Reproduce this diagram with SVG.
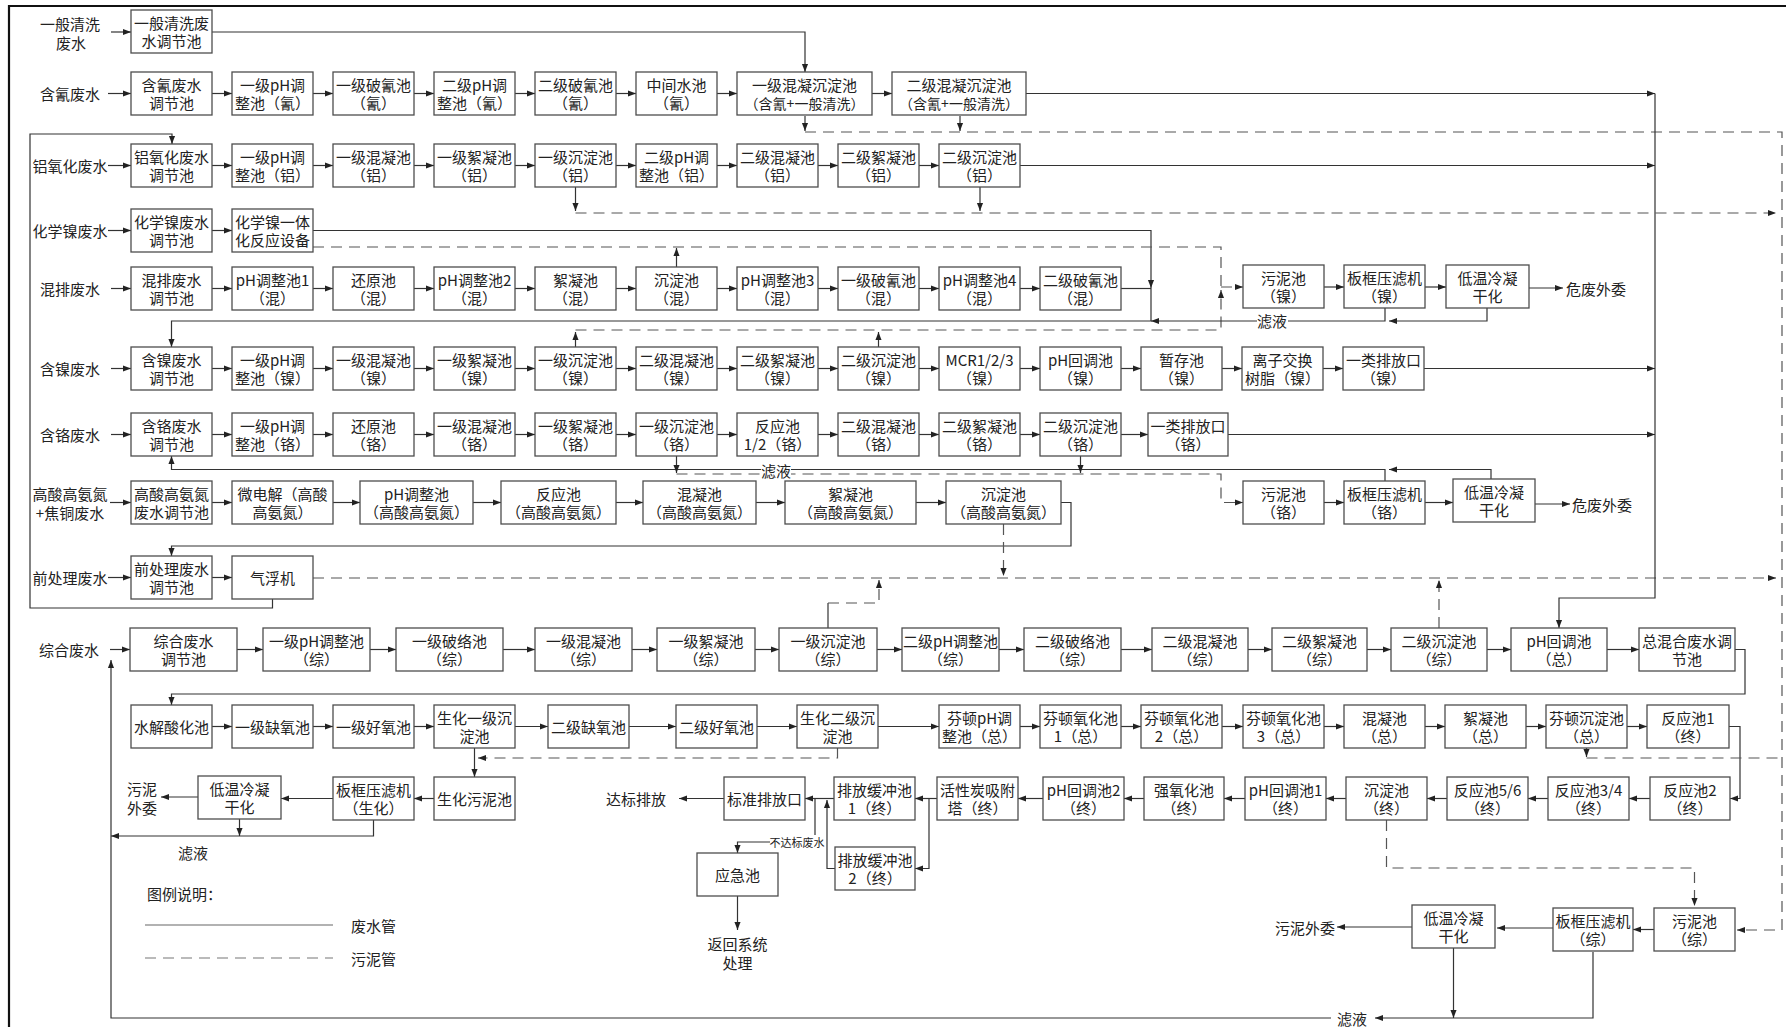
<svg xmlns="http://www.w3.org/2000/svg" width="1786" height="1027" viewBox="0 0 1786 1027">
<defs>
<marker id="a" viewBox="0 0 10 10" refX="10" refY="5" markerWidth="8" markerHeight="8" markerUnits="userSpaceOnUse" orient="auto"><path d="M0,1.2 L10,5 L0,8.8z" fill="#222"/></marker>
<style>
.b{fill:#fff;stroke:#4d4d4d;stroke-width:1.3}
.t{font-family:"Noto Sans CJK SC","Noto Sans",sans-serif;font-size:15px;fill:#222;text-anchor:middle;dominant-baseline:central}
.s{font-size:14px}
.l{font-family:"Noto Sans CJK SC","Noto Sans",sans-serif;font-size:15px;fill:#222;dominant-baseline:central}
.w{fill:none;stroke:#333;stroke-width:1.2}
.wa{fill:none;stroke:#333;stroke-width:1.2;marker-end:url(#a)}
.d{fill:none;stroke:#555;stroke-width:1.2;stroke-dasharray:11 7}
.da{fill:none;stroke:#555;stroke-width:1.2;stroke-dasharray:11 7;marker-end:url(#a)}
.bg{fill:#fff}
</style>
</defs>
<rect width="1786" height="1027" fill="#fff"/>
<path d="M9,1027V6H1786" fill="none" stroke="#111" stroke-width="2.2"/>

<g id="connectors">
<!-- row 0 -->
<path class="wa" d="M111,32H131"/>
<path class="wa" d="M212,32H805V72"/>
<!-- row 1 -->
<path class="wa" d="M108,93.5H131"/>
<path class="wa" d="M212,93.5H232"/><path class="wa" d="M313,93.5H333"/><path class="wa" d="M414,93.5H434"/><path class="wa" d="M515,93.5H535"/><path class="wa" d="M616,93.5H636"/><path class="wa" d="M717,93.5H737"/><path class="wa" d="M872,93.5H892"/>
<path class="wa" d="M1026,93.5H1655"/>
<path class="wa" d="M805,116V131"/><path class="wa" d="M960,116V131"/>
<path class="da" d="M805,132H1782V930H1737"/>
<!-- row 2 -->
<path class="wa" d="M108,165.5H131"/>
<path class="wa" d="M212,165.5H232"/><path class="wa" d="M313,165.5H333"/><path class="wa" d="M414,165.5H434"/><path class="wa" d="M515,165.5H535"/><path class="wa" d="M616,165.5H636"/><path class="wa" d="M717,165.5H737"/><path class="wa" d="M818,165.5H838"/><path class="wa" d="M919,165.5H939"/>
<path class="wa" d="M1020,165.5H1655"/>
<path class="wa" d="M575.5,187V211"/><path class="wa" d="M980,187V211"/>
<path class="da" d="M575.5,213H1776"/>
<!-- return from 气浮机 -->
<path class="wa" d="M272.5,599V608H30V134H172V144"/>
<!-- row 3 -->
<path class="wa" d="M108,230.5H131"/>
<path class="wa" d="M212,230.5H232"/>
<path class="wa" d="M313,230.5H1151V288"/>
<path class="d" d="M313,247H1221V288"/>
<!-- row 4 -->
<path class="wa" d="M111,288.5H131"/>
<path class="wa" d="M212,288.5H232"/><path class="wa" d="M313,288.5H333"/><path class="wa" d="M414,288.5H434"/><path class="wa" d="M515,288.5H535"/><path class="wa" d="M616,288.5H636"/><path class="wa" d="M717,288.5H737"/><path class="wa" d="M818,288.5H838"/><path class="wa" d="M919,288.5H939"/><path class="wa" d="M1020,288.5H1040"/>
<path class="w" d="M1121,288.5H1151"/>
<path class="wa" d="M1151,288V321H171.5V347"/>
<path class="wa" d="M676.5,267V248"/>
<!-- Ni sludge -->
<path class="da" d="M575.5,330H1221V290"/>
<path class="wa" d="M575.5,347V332"/><path class="wa" d="M878.5,347V332"/>
<path class="da" d="M1221,287H1243"/>
<path class="wa" d="M1324,287H1344"/><path class="wa" d="M1425,287H1446"/><path class="wa" d="M1529,288H1563"/>
<path class="wa" d="M1385,308V321H1151"/>
<path class="wa" d="M1487,308V321H1389"/>
<!-- row 5 -->
<path class="wa" d="M111,368.5H131"/>
<path class="wa" d="M212,368.5H232"/><path class="wa" d="M313,368.5H333"/><path class="wa" d="M414,368.5H434"/><path class="wa" d="M515,368.5H535"/><path class="wa" d="M616,368.5H636"/><path class="wa" d="M717,368.5H737"/><path class="wa" d="M818,368.5H838"/><path class="wa" d="M919,368.5H939"/><path class="wa" d="M1020,368.5H1040"/><path class="wa" d="M1121,368.5H1141"/><path class="wa" d="M1222,368.5H1242"/><path class="wa" d="M1323,368.5H1343"/>
<path class="wa" d="M1424,368.5H1655"/>
<!-- row 6 -->
<path class="wa" d="M111,434.5H131"/>
<path class="wa" d="M212,434.5H232"/><path class="wa" d="M313,434.5H333"/><path class="wa" d="M414,434.5H434"/><path class="wa" d="M515,434.5H535"/><path class="wa" d="M616,434.5H636"/><path class="wa" d="M717,434.5H737"/><path class="wa" d="M818,434.5H838"/><path class="wa" d="M919,434.5H939"/><path class="wa" d="M1020,434.5H1040"/><path class="wa" d="M1121,434.5H1148"/>
<path class="wa" d="M1228,434.5H1655"/>
<!-- Cr filtrate & sludge -->
<path class="wa" d="M1385,481V469.5H171.5V456"/>
<path class="wa" d="M1491,479V469.5H1389"/>
<path class="wa" d="M676.5,456V473"/><path class="wa" d="M1080.5,456V473"/>
<path class="da" d="M676.5,474H1221V502.5H1243"/>
<path class="wa" d="M1324,502.5H1344"/><path class="wa" d="M1425,502.5H1453"/><path class="wa" d="M1535,504H1570"/>
<!-- row 7 -->
<path class="wa" d="M110,502.5H131"/>
<path class="wa" d="M212,502.5H232"/><path class="wa" d="M333,502.5H360"/><path class="wa" d="M473,502.5H501"/><path class="wa" d="M616,502.5H643"/><path class="wa" d="M756,502.5H785"/><path class="wa" d="M916,502.5H946"/>
<path class="wa" d="M1061,502.5H1071V546H171.5V556"/>
<path class="da" d="M1003.5,524V576"/>
<!-- row 8 -->
<path class="wa" d="M108,577.5H131"/>
<path class="wa" d="M212,577.5H232"/>
<path class="da" d="M313,578H1776"/>
<!-- collector -->
<path class="wa" d="M1655,93.5V598H1559V628"/>
<!-- row 9 -->
<path class="wa" d="M110,649.5H130"/>
<path class="wa" d="M237,649.5H263"/><path class="wa" d="M370,649.5H396"/><path class="wa" d="M503,649.5H535"/><path class="wa" d="M632,649.5H657"/><path class="wa" d="M755,649.5H779"/><path class="wa" d="M877,649.5H902"/><path class="wa" d="M999,649.5H1024"/><path class="wa" d="M1121,649.5H1152"/><path class="wa" d="M1248,649.5H1272"/><path class="wa" d="M1367,649.5H1391"/><path class="wa" d="M1487,649.5H1511"/><path class="wa" d="M1607,649.5H1639"/>
<path class="wa" d="M1735,649.5H1745V694H171.5V705"/>
<path class="w" d="M828,628V603"/>
<path class="da" d="M828,603H879V580"/>
<path class="da" d="M1439,628V580"/>
<!-- row 10 -->
<path class="wa" d="M212,726.5H232"/><path class="wa" d="M313,726.5H333"/><path class="wa" d="M414,726.5H434"/><path class="wa" d="M515,726.5H548"/><path class="wa" d="M629,726.5H676"/><path class="wa" d="M757,726.5H797"/><path class="wa" d="M878,726.5H939"/><path class="wa" d="M1020,726.5H1040"/><path class="wa" d="M1121,726.5H1141"/><path class="wa" d="M1222,726.5H1243"/><path class="wa" d="M1324,726.5H1344"/><path class="wa" d="M1425,726.5H1445"/><path class="wa" d="M1526,726.5H1546"/><path class="wa" d="M1627,726.5H1647"/>
<path class="wa" d="M1729,726.5H1740V798.5H1730"/>
<path class="wa" d="M1586.5,748V757"/>
<path class="d" d="M1586.5,758H1782"/>
<!-- bio sludge -->
<path class="da" d="M837.5,748V758H478"/>
<path class="wa" d="M474.5,748V777"/>
<path class="wa" d="M434,798.5H414"/><path class="wa" d="M333,798.5H281"/><path class="wa" d="M198,797H161"/>
<path class="wa" d="M373.5,820V836H111"/>
<path class="wa" d="M239.5,819V836"/>
<!-- row 11 right -->
<path class="wa" d="M1650,798.5H1629"/><path class="wa" d="M1548,798.5H1528"/><path class="wa" d="M1447,798.5H1427"/><path class="wa" d="M1346,798.5H1326"/><path class="wa" d="M1245,798.5H1224"/><path class="wa" d="M1144,798.5H1124"/><path class="wa" d="M1043,798.5H1018"/><path class="wa" d="M937,798.5H915"/><path class="wa" d="M834,798.5H805"/><path class="wa" d="M724,798.5H679"/>
<path class="wa" d="M929,798.5V868.5H915"/>
<path class="wa" d="M835,868.5H827V800"/>
<path class="wa" d="M815,798.5V842H737.5V853"/>
<path class="wa" d="M737.5,896V930"/>
<path class="da" d="M1386.5,820V868H1694.5V906"/>
<!-- sludge zong -->
<path class="wa" d="M1654,929.5H1633"/><path class="wa" d="M1553,928H1497"/><path class="wa" d="M1412,927H1337"/>
<path class="wa" d="M1593,952V1018H1375"/>
<path class="wa" d="M1453.5,948V1018"/>
<path class="wa" d="M1331,1018H111V660"/>
</g>

<g id="labels">
<text class="t" x="70" y="23">一般清洗</text><text class="t" x="71" y="42">废水</text>
<text class="t" x="70" y="93.5">含氰废水</text>
<text class="t" x="70" y="165.5">铝氧化废水</text>
<text class="t" x="70" y="230.5">化学镍废水</text>
<text class="t" x="70" y="288.5">混排废水</text>
<text class="t" x="70" y="368.5">含镍废水</text>
<text class="t" x="70" y="434.5">含铬废水</text>
<text class="t" x="70" y="493">高酸高氨氮</text><text class="t" x="70" y="512">+焦铜废水</text>
<text class="t" x="70" y="577.5">前处理废水</text>
<text class="t" x="69" y="649.5">综合废水</text>
<text class="l" x="1566" y="288">危废外委</text>
<rect class="bg" x="1257" y="312" width="31" height="17"/><text class="t" x="1272" y="320">滤液</text>
<text class="l" x="1572" y="504">危废外委</text>
<rect class="bg" x="761" y="462" width="30" height="17"/><text class="t" x="776" y="470">滤液</text>
<text class="t" x="142" y="788">污泥</text><text class="t" x="142" y="807">外委</text>
<text class="t" x="193" y="852">滤液</text>
<text class="l" x="666" y="798.5" text-anchor="end">达标排放</text>
<rect class="bg" x="770" y="835" width="55" height="13"/><text class="t" x="797" y="842" style="font-size:11px">不达标废水</text>
<text class="t" x="737.5" y="943">返回系统</text><text class="t" x="737.5" y="962">处理</text>
<text class="l" x="1335" y="927" text-anchor="end">污泥外委</text>
<text class="t" x="1352" y="1018">滤液</text>
</g>

<g id="legend">
<text class="l" x="147" y="893">图例说明：</text>
<path d="M145,925H333" fill="none" stroke="#666" stroke-width="1.2"/>
<text class="l" x="351" y="925">废水管</text>
<path d="M145,958H333" fill="none" stroke="#777" stroke-width="1.2" stroke-dasharray="11 7"/>
<text class="l" x="351" y="958">污泥管</text>
</g>

<!-- row 0 -->
<g id="n-ybqx-tj"><rect class="b" x="131" y="10" width="81" height="43"/><text class="t" x="171.5" y="22.5">一般清洗废</text><text class="t" x="171.5" y="40.5">水调节池</text></g>
<!-- row 1 -->
<g id="n-hq-tj"><rect class="b" x="131" y="72" width="81" height="43"/><text class="t" x="171.5" y="84.5">含氰废水</text><text class="t" x="171.5" y="102.5">调节池</text></g>
<g id="n-hq-ph1"><rect class="b" x="232" y="72" width="81" height="43"/><text class="t" x="272.5" y="84.5">一级pH调</text><text class="t" x="272.5" y="102.5">整池（氰）</text></g>
<g id="n-hq-pq1"><rect class="b" x="333" y="72" width="81" height="43"/><text class="t" x="373.5" y="84.5">一级破氰池</text><text class="t" x="373.5" y="102.5">（氰）</text></g>
<g id="n-hq-ph2"><rect class="b" x="434" y="72" width="81" height="43"/><text class="t" x="474.5" y="84.5">二级pH调</text><text class="t" x="474.5" y="102.5">整池（氰）</text></g>
<g id="n-hq-pq2"><rect class="b" x="535" y="72" width="81" height="43"/><text class="t" x="575.5" y="84.5">二级破氰池</text><text class="t" x="575.5" y="102.5">（氰）</text></g>
<g id="n-hq-zj"><rect class="b" x="636" y="72" width="81" height="43"/><text class="t" x="676.5" y="84.5">中间水池</text><text class="t" x="676.5" y="102.5">（氰）</text></g>
<g id="n-hq-hn1"><rect class="b" x="737" y="72" width="135" height="43"/><text class="t" x="804.5" y="84.5">一级混凝沉淀池</text><text class="t s" x="804.5" y="102.5">（含氰+一般清洗）</text></g>
<g id="n-hq-hn2"><rect class="b" x="892" y="72" width="134" height="43"/><text class="t" x="959" y="84.5">二级混凝沉淀池</text><text class="t s" x="959" y="102.5">（含氰+一般清洗）</text></g>
<!-- row 2 -->
<g id="n-lv-tj"><rect class="b" x="131" y="144" width="81" height="43"/><text class="t" x="171.5" y="156.5">铝氧化废水</text><text class="t" x="171.5" y="174.5">调节池</text></g>
<g id="n-lv-ph1"><rect class="b" x="232" y="144" width="81" height="43"/><text class="t" x="272.5" y="156.5">一级pH调</text><text class="t" x="272.5" y="174.5">整池（铝）</text></g>
<g id="n-lv-hn1"><rect class="b" x="333" y="144" width="81" height="43"/><text class="t" x="373.5" y="156.5">一级混凝池</text><text class="t" x="373.5" y="174.5">（铝）</text></g>
<g id="n-lv-xn1"><rect class="b" x="434" y="144" width="81" height="43"/><text class="t" x="474.5" y="156.5">一级絮凝池</text><text class="t" x="474.5" y="174.5">（铝）</text></g>
<g id="n-lv-cd1"><rect class="b" x="535" y="144" width="81" height="43"/><text class="t" x="575.5" y="156.5">一级沉淀池</text><text class="t" x="575.5" y="174.5">（铝）</text></g>
<g id="n-lv-ph2"><rect class="b" x="636" y="144" width="81" height="43"/><text class="t" x="676.5" y="156.5">二级pH调</text><text class="t" x="676.5" y="174.5">整池（铝）</text></g>
<g id="n-lv-hn2"><rect class="b" x="737" y="144" width="81" height="43"/><text class="t" x="777.5" y="156.5">二级混凝池</text><text class="t" x="777.5" y="174.5">（铝）</text></g>
<g id="n-lv-xn2"><rect class="b" x="838" y="144" width="81" height="43"/><text class="t" x="878.5" y="156.5">二级絮凝池</text><text class="t" x="878.5" y="174.5">（铝）</text></g>
<g id="n-lv-cd2"><rect class="b" x="939" y="144" width="81" height="43"/><text class="t" x="979.5" y="156.5">二级沉淀池</text><text class="t" x="979.5" y="174.5">（铝）</text></g>
<!-- row 3 -->
<g id="n-hxn-tj"><rect class="b" x="131" y="209" width="81" height="43"/><text class="t" x="171.5" y="221.5">化学镍废水</text><text class="t" x="171.5" y="239.5">调节池</text></g>
<g id="n-hxn-sb"><rect class="b" x="232" y="209" width="81" height="43"/><text class="t" x="272.5" y="221.5">化学镍一体</text><text class="t" x="272.5" y="239.5">化反应设备</text></g>
<!-- row 4 -->
<g id="n-hp-tj"><rect class="b" x="131" y="267" width="81" height="43"/><text class="t" x="171.5" y="279.5">混排废水</text><text class="t" x="171.5" y="297.5">调节池</text></g>
<g id="n-hp-ph1"><rect class="b" x="232" y="267" width="81" height="43"/><text class="t" x="272.5" y="279.5">pH调整池1</text><text class="t" x="272.5" y="297.5">（混）</text></g>
<g id="n-hp-hy"><rect class="b" x="333" y="267" width="81" height="43"/><text class="t" x="373.5" y="279.5">还原池</text><text class="t" x="373.5" y="297.5">（混）</text></g>
<g id="n-hp-ph2"><rect class="b" x="434" y="267" width="81" height="43"/><text class="t" x="474.5" y="279.5">pH调整池2</text><text class="t" x="474.5" y="297.5">（混）</text></g>
<g id="n-hp-xn"><rect class="b" x="535" y="267" width="81" height="43"/><text class="t" x="575.5" y="279.5">絮凝池</text><text class="t" x="575.5" y="297.5">（混）</text></g>
<g id="n-hp-cd"><rect class="b" x="636" y="267" width="81" height="43"/><text class="t" x="676.5" y="279.5">沉淀池</text><text class="t" x="676.5" y="297.5">（混）</text></g>
<g id="n-hp-ph3"><rect class="b" x="737" y="267" width="81" height="43"/><text class="t" x="777.5" y="279.5">pH调整池3</text><text class="t" x="777.5" y="297.5">（混）</text></g>
<g id="n-hp-pq1"><rect class="b" x="838" y="267" width="81" height="43"/><text class="t" x="878.5" y="279.5">一级破氰池</text><text class="t" x="878.5" y="297.5">（混）</text></g>
<g id="n-hp-ph4"><rect class="b" x="939" y="267" width="81" height="43"/><text class="t" x="979.5" y="279.5">pH调整池4</text><text class="t" x="979.5" y="297.5">（混）</text></g>
<g id="n-hp-pq2"><rect class="b" x="1040" y="267" width="81" height="43"/><text class="t" x="1080.5" y="279.5">二级破氰池</text><text class="t" x="1080.5" y="297.5">（混）</text></g>
<!-- Ni sludge -->
<g id="n-ni-wn"><rect class="b" x="1243" y="265" width="81" height="43"/><text class="t" x="1283.5" y="277.5">污泥池</text><text class="t" x="1283.5" y="295.5">（镍）</text></g>
<g id="n-ni-bk"><rect class="b" x="1344" y="265" width="81" height="43"/><text class="t" x="1384.5" y="277.5">板框压滤机</text><text class="t" x="1384.5" y="295.5">（镍）</text></g>
<g id="n-ni-dw"><rect class="b" x="1446" y="265" width="83" height="43"/><text class="t" x="1487.5" y="277.5">低温冷凝</text><text class="t" x="1487.5" y="295.5">干化</text></g>
<!-- row 5 -->
<g id="n-ni-tj"><rect class="b" x="131" y="347" width="81" height="43"/><text class="t" x="171.5" y="359.5">含镍废水</text><text class="t" x="171.5" y="377.5">调节池</text></g>
<g id="n-ni-ph1"><rect class="b" x="232" y="347" width="81" height="43"/><text class="t" x="272.5" y="359.5">一级pH调</text><text class="t" x="272.5" y="377.5">整池（镍）</text></g>
<g id="n-ni-hn1"><rect class="b" x="333" y="347" width="81" height="43"/><text class="t" x="373.5" y="359.5">一级混凝池</text><text class="t" x="373.5" y="377.5">（镍）</text></g>
<g id="n-ni-xn1"><rect class="b" x="434" y="347" width="81" height="43"/><text class="t" x="474.5" y="359.5">一级絮凝池</text><text class="t" x="474.5" y="377.5">（镍）</text></g>
<g id="n-ni-cd1"><rect class="b" x="535" y="347" width="81" height="43"/><text class="t" x="575.5" y="359.5">一级沉淀池</text><text class="t" x="575.5" y="377.5">（镍）</text></g>
<g id="n-ni-hn2"><rect class="b" x="636" y="347" width="81" height="43"/><text class="t" x="676.5" y="359.5">二级混凝池</text><text class="t" x="676.5" y="377.5">（镍）</text></g>
<g id="n-ni-xn2"><rect class="b" x="737" y="347" width="81" height="43"/><text class="t" x="777.5" y="359.5">二级絮凝池</text><text class="t" x="777.5" y="377.5">（镍）</text></g>
<g id="n-ni-cd2"><rect class="b" x="838" y="347" width="81" height="43"/><text class="t" x="878.5" y="359.5">二级沉淀池</text><text class="t" x="878.5" y="377.5">（镍）</text></g>
<g id="n-ni-mcr"><rect class="b" x="939" y="347" width="81" height="43"/><text class="t" x="979.5" y="359.5">MCR1/2/3</text><text class="t" x="979.5" y="377.5">（镍）</text></g>
<g id="n-ni-ph"><rect class="b" x="1040" y="347" width="81" height="43"/><text class="t" x="1080.5" y="359.5">pH回调池</text><text class="t" x="1080.5" y="377.5">（镍）</text></g>
<g id="n-ni-zc"><rect class="b" x="1141" y="347" width="81" height="43"/><text class="t" x="1181.5" y="359.5">暂存池</text><text class="t" x="1181.5" y="377.5">（镍）</text></g>
<g id="n-ni-lz"><rect class="b" x="1242" y="347" width="81" height="43"/><text class="t" x="1282.5" y="359.5">离子交换</text><text class="t" x="1282.5" y="377.5">树脂（镍）</text></g>
<g id="n-ni-pf"><rect class="b" x="1343" y="347" width="81" height="43"/><text class="t" x="1383.5" y="359.5">一类排放口</text><text class="t" x="1383.5" y="377.5">（镍）</text></g>
<!-- row 6 -->
<g id="n-cr-tj"><rect class="b" x="131" y="413" width="81" height="43"/><text class="t" x="171.5" y="425.5">含铬废水</text><text class="t" x="171.5" y="443.5">调节池</text></g>
<g id="n-cr-ph1"><rect class="b" x="232" y="413" width="81" height="43"/><text class="t" x="272.5" y="425.5">一级pH调</text><text class="t" x="272.5" y="443.5">整池（铬）</text></g>
<g id="n-cr-hy"><rect class="b" x="333" y="413" width="81" height="43"/><text class="t" x="373.5" y="425.5">还原池</text><text class="t" x="373.5" y="443.5">（铬）</text></g>
<g id="n-cr-hn1"><rect class="b" x="434" y="413" width="81" height="43"/><text class="t" x="474.5" y="425.5">一级混凝池</text><text class="t" x="474.5" y="443.5">（铬）</text></g>
<g id="n-cr-xn1"><rect class="b" x="535" y="413" width="81" height="43"/><text class="t" x="575.5" y="425.5">一级絮凝池</text><text class="t" x="575.5" y="443.5">（铬）</text></g>
<g id="n-cr-cd1"><rect class="b" x="636" y="413" width="81" height="43"/><text class="t" x="676.5" y="425.5">一级沉淀池</text><text class="t" x="676.5" y="443.5">（铬）</text></g>
<g id="n-cr-fy"><rect class="b" x="737" y="413" width="81" height="43"/><text class="t" x="777.5" y="425.5">反应池</text><text class="t" x="777.5" y="443.5">1/2（铬）</text></g>
<g id="n-cr-hn2"><rect class="b" x="838" y="413" width="81" height="43"/><text class="t" x="878.5" y="425.5">二级混凝池</text><text class="t" x="878.5" y="443.5">（铬）</text></g>
<g id="n-cr-xn2"><rect class="b" x="939" y="413" width="81" height="43"/><text class="t" x="979.5" y="425.5">二级絮凝池</text><text class="t" x="979.5" y="443.5">（铬）</text></g>
<g id="n-cr-cd2"><rect class="b" x="1040" y="413" width="81" height="43"/><text class="t" x="1080.5" y="425.5">二级沉淀池</text><text class="t" x="1080.5" y="443.5">（铬）</text></g>
<g id="n-cr-pf"><rect class="b" x="1148" y="413" width="80" height="43"/><text class="t" x="1188" y="425.5">一类排放口</text><text class="t" x="1188" y="443.5">（铬）</text></g>
<!-- Cr sludge -->
<g id="n-cr-wn"><rect class="b" x="1243" y="481" width="81" height="43"/><text class="t" x="1283.5" y="493.5">污泥池</text><text class="t" x="1283.5" y="511.5">（铬）</text></g>
<g id="n-cr-bk"><rect class="b" x="1344" y="481" width="81" height="43"/><text class="t" x="1384.5" y="493.5">板框压滤机</text><text class="t" x="1384.5" y="511.5">（铬）</text></g>
<g id="n-cr-dw"><rect class="b" x="1453" y="479" width="82" height="43"/><text class="t" x="1494" y="491.5">低温冷凝</text><text class="t" x="1494" y="509.5">干化</text></g>
<!-- row 7 -->
<g id="n-gs-tj"><rect class="b" x="131" y="481" width="81" height="43"/><text class="t" x="171.5" y="493.5">高酸高氨氮</text><text class="t" x="171.5" y="511.5">废水调节池</text></g>
<g id="n-gs-wdj"><rect class="b" x="232" y="481" width="101" height="43"/><text class="t" x="282.5" y="493.5">微电解（高酸</text><text class="t" x="282.5" y="511.5">高氨氮）</text></g>
<g id="n-gs-ph"><rect class="b" x="360" y="481" width="113" height="43"/><text class="t" x="416.5" y="493.5">pH调整池</text><text class="t" x="416.5" y="511.5">（高酸高氨氮）</text></g>
<g id="n-gs-fy"><rect class="b" x="501" y="481" width="115" height="43"/><text class="t" x="558.5" y="493.5">反应池</text><text class="t" x="558.5" y="511.5">（高酸高氨氮）</text></g>
<g id="n-gs-hn"><rect class="b" x="643" y="481" width="113" height="43"/><text class="t" x="699.5" y="493.5">混凝池</text><text class="t" x="699.5" y="511.5">（高酸高氨氮）</text></g>
<g id="n-gs-xn"><rect class="b" x="785" y="481" width="131" height="43"/><text class="t" x="850.5" y="493.5">絮凝池</text><text class="t" x="850.5" y="511.5">（高酸高氨氮）</text></g>
<g id="n-gs-cd"><rect class="b" x="946" y="481" width="115" height="43"/><text class="t" x="1003.5" y="493.5">沉淀池</text><text class="t" x="1003.5" y="511.5">（高酸高氨氮）</text></g>
<!-- row 8 -->
<g id="n-qcl-tj"><rect class="b" x="131" y="556" width="81" height="43"/><text class="t" x="171.5" y="568.5">前处理废水</text><text class="t" x="171.5" y="586.5">调节池</text></g>
<g id="n-qfj"><rect class="b" x="232" y="556" width="81" height="43"/><text class="t" x="272.5" y="577.5">气浮机</text></g>
<!-- row 9 -->
<g id="n-z-tj"><rect class="b" x="130" y="628" width="107" height="43"/><text class="t" x="183.5" y="640.5">综合废水</text><text class="t" x="183.5" y="658.5">调节池</text></g>
<g id="n-z-ph1"><rect class="b" x="263" y="628" width="107" height="43"/><text class="t" x="316.5" y="640.5">一级pH调整池</text><text class="t" x="316.5" y="658.5">（综）</text></g>
<g id="n-z-pl1"><rect class="b" x="396" y="628" width="107" height="43"/><text class="t" x="449.5" y="640.5">一级破络池</text><text class="t" x="449.5" y="658.5">（综）</text></g>
<g id="n-z-hn1"><rect class="b" x="535" y="628" width="97" height="43"/><text class="t" x="583.5" y="640.5">一级混凝池</text><text class="t" x="583.5" y="658.5">（综）</text></g>
<g id="n-z-xn1"><rect class="b" x="657" y="628" width="98" height="43"/><text class="t" x="706" y="640.5">一级絮凝池</text><text class="t" x="706" y="658.5">（综）</text></g>
<g id="n-z-cd1"><rect class="b" x="779" y="628" width="98" height="43"/><text class="t" x="828" y="640.5">一级沉淀池</text><text class="t" x="828" y="658.5">（综）</text></g>
<g id="n-z-ph2"><rect class="b" x="902" y="628" width="97" height="43"/><text class="t" x="950.5" y="640.5">二级pH调整池</text><text class="t" x="950.5" y="658.5">（综）</text></g>
<g id="n-z-pl2"><rect class="b" x="1024" y="628" width="97" height="43"/><text class="t" x="1072.5" y="640.5">二级破络池</text><text class="t" x="1072.5" y="658.5">（综）</text></g>
<g id="n-z-hn2"><rect class="b" x="1152" y="628" width="96" height="43"/><text class="t" x="1200" y="640.5">二级混凝池</text><text class="t" x="1200" y="658.5">（综）</text></g>
<g id="n-z-xn2"><rect class="b" x="1272" y="628" width="95" height="43"/><text class="t" x="1319.5" y="640.5">二级絮凝池</text><text class="t" x="1319.5" y="658.5">（综）</text></g>
<g id="n-z-cd2"><rect class="b" x="1391" y="628" width="96" height="43"/><text class="t" x="1439" y="640.5">二级沉淀池</text><text class="t" x="1439" y="658.5">（综）</text></g>
<g id="n-zong-ph"><rect class="b" x="1511" y="628" width="96" height="43"/><text class="t" x="1559" y="640.5">pH回调池</text><text class="t" x="1559" y="658.5">（总）</text></g>
<g id="n-zong-tj"><rect class="b" x="1639" y="628" width="96" height="43"/><text class="t" x="1687" y="640.5">总混合废水调</text><text class="t" x="1687" y="658.5">节池</text></g>
<!-- row 10 -->
<g id="n-sj"><rect class="b" x="131" y="705" width="81" height="43"/><text class="t" x="171.5" y="726.5">水解酸化池</text></g>
<g id="n-qy1"><rect class="b" x="232" y="705" width="81" height="43"/><text class="t" x="272.5" y="726.5">一级缺氧池</text></g>
<g id="n-hy1"><rect class="b" x="333" y="705" width="81" height="43"/><text class="t" x="373.5" y="726.5">一级好氧池</text></g>
<g id="n-sh-cd1"><rect class="b" x="434" y="705" width="81" height="43"/><text class="t" x="474.5" y="717.5">生化一级沉</text><text class="t" x="474.5" y="735.5">淀池</text></g>
<g id="n-qy2"><rect class="b" x="548" y="705" width="81" height="43"/><text class="t" x="588.5" y="726.5">二级缺氧池</text></g>
<g id="n-hy2"><rect class="b" x="676" y="705" width="81" height="43"/><text class="t" x="716.5" y="726.5">二级好氧池</text></g>
<g id="n-sh-cd2"><rect class="b" x="797" y="705" width="81" height="43"/><text class="t" x="837.5" y="717.5">生化二级沉</text><text class="t" x="837.5" y="735.5">淀池</text></g>
<g id="n-fd-ph"><rect class="b" x="939" y="705" width="81" height="43"/><text class="t" x="979.5" y="717.5">芬顿pH调</text><text class="t" x="979.5" y="735.5">整池（总）</text></g>
<g id="n-fd-yh1"><rect class="b" x="1040" y="705" width="81" height="43"/><text class="t" x="1080.5" y="717.5">芬顿氧化池</text><text class="t" x="1080.5" y="735.5">1（总）</text></g>
<g id="n-fd-yh2"><rect class="b" x="1141" y="705" width="81" height="43"/><text class="t" x="1181.5" y="717.5">芬顿氧化池</text><text class="t" x="1181.5" y="735.5">2（总）</text></g>
<g id="n-fd-yh3"><rect class="b" x="1243" y="705" width="81" height="43"/><text class="t" x="1283.5" y="717.5">芬顿氧化池</text><text class="t" x="1283.5" y="735.5">3（总）</text></g>
<g id="n-zong-hn"><rect class="b" x="1344" y="705" width="81" height="43"/><text class="t" x="1384.5" y="717.5">混凝池</text><text class="t" x="1384.5" y="735.5">（总）</text></g>
<g id="n-zong-xn"><rect class="b" x="1445" y="705" width="81" height="43"/><text class="t" x="1485.5" y="717.5">絮凝池</text><text class="t" x="1485.5" y="735.5">（总）</text></g>
<g id="n-fd-cd"><rect class="b" x="1546" y="705" width="81" height="43"/><text class="t" x="1586.5" y="717.5">芬顿沉淀池</text><text class="t" x="1586.5" y="735.5">（总）</text></g>
<g id="n-z-fy1"><rect class="b" x="1647" y="705" width="82" height="43"/><text class="t" x="1688" y="717.5">反应池1</text><text class="t" x="1688" y="735.5">（终）</text></g>
<!-- row 11 left -->
<g id="n-sh-wn"><rect class="b" x="434" y="777" width="81" height="43"/><text class="t" x="474.5" y="798.5">生化污泥池</text></g>
<g id="n-sh-bk"><rect class="b" x="333" y="777" width="81" height="43"/><text class="t" x="373.5" y="789.5">板框压滤机</text><text class="t" x="373.5" y="807.5">（生化）</text></g>
<g id="n-sh-dw"><rect class="b" x="198" y="776" width="83" height="43"/><text class="t" x="239.5" y="788.5">低温冷凝</text><text class="t" x="239.5" y="806.5">干化</text></g>
<!-- row 11 right -->
<g id="n-bzpf"><rect class="b" x="724" y="777" width="81" height="43"/><text class="t" x="764.5" y="798.5">标准排放口</text></g>
<g id="n-hc1"><rect class="b" x="834" y="777" width="81" height="43"/><text class="t" x="874.5" y="789.5">排放缓冲池</text><text class="t" x="874.5" y="807.5">1（终）</text></g>
<g id="n-hxt"><rect class="b" x="937" y="777" width="81" height="43"/><text class="t" x="977.5" y="789.5">活性炭吸附</text><text class="t" x="977.5" y="807.5">塔（终）</text></g>
<g id="n-z-ph2"><rect class="b" x="1043" y="777" width="81" height="43"/><text class="t" x="1083.5" y="789.5">pH回调池2</text><text class="t" x="1083.5" y="807.5">（终）</text></g>
<g id="n-qyh"><rect class="b" x="1144" y="777" width="80" height="43"/><text class="t" x="1184" y="789.5">强氧化池</text><text class="t" x="1184" y="807.5">（终）</text></g>
<g id="n-z-ph1b"><rect class="b" x="1245" y="777" width="81" height="43"/><text class="t" x="1285.5" y="789.5">pH回调池1</text><text class="t" x="1285.5" y="807.5">（终）</text></g>
<g id="n-z-cd"><rect class="b" x="1346" y="777" width="81" height="43"/><text class="t" x="1386.5" y="789.5">沉淀池</text><text class="t" x="1386.5" y="807.5">（终）</text></g>
<g id="n-z-fy56"><rect class="b" x="1447" y="777" width="81" height="43"/><text class="t" x="1487.5" y="789.5">反应池5/6</text><text class="t" x="1487.5" y="807.5">（终）</text></g>
<g id="n-z-fy34"><rect class="b" x="1548" y="777" width="81" height="43"/><text class="t" x="1588.5" y="789.5">反应池3/4</text><text class="t" x="1588.5" y="807.5">（终）</text></g>
<g id="n-z-fy2"><rect class="b" x="1650" y="777" width="80" height="43"/><text class="t" x="1690" y="789.5">反应池2</text><text class="t" x="1690" y="807.5">（终）</text></g>
<!-- row 12 -->
<g id="n-hc2"><rect class="b" x="835" y="847" width="80" height="43"/><text class="t" x="875" y="859.5">排放缓冲池</text><text class="t" x="875" y="877.5">2（终）</text></g>
<g id="n-yjc"><rect class="b" x="697" y="853" width="81" height="43"/><text class="t" x="737.5" y="874.5">应急池</text></g>
<!-- sludge zong -->
<g id="n-zs-wn"><rect class="b" x="1654" y="908" width="81" height="43"/><text class="t" x="1694.5" y="920.5">污泥池</text><text class="t" x="1694.5" y="938.5">（综）</text></g>
<g id="n-zs-bk"><rect class="b" x="1553" y="908" width="80" height="43"/><text class="t" x="1593" y="920.5">板框压滤机</text><text class="t" x="1593" y="938.5">（综）</text></g>
<g id="n-zs-dw"><rect class="b" x="1412" y="905" width="83" height="43"/><text class="t" x="1453.5" y="917.5">低温冷凝</text><text class="t" x="1453.5" y="935.5">干化</text></g>
</svg>
